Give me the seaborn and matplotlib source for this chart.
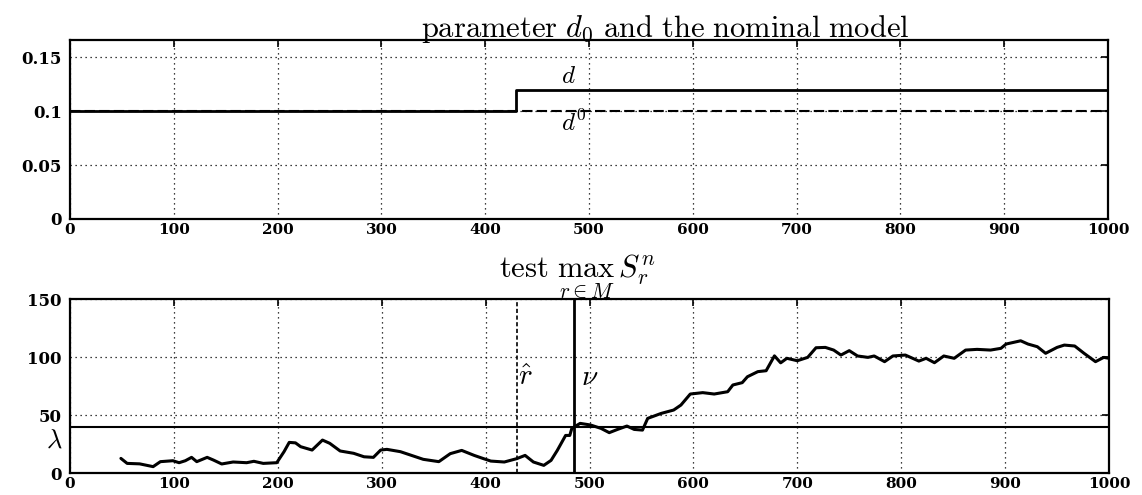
import numpy as np
import pandas as pd
import matplotlib
matplotlib.use('Agg')
import matplotlib.pyplot as plt
import seaborn as sns
from matplotlib.ticker import FuncFormatter

# top panel: parameter d and nominal d0 (step at the change time)
t_param = [0, 430, 1000]
d_true = [0.10, 0.12, 0.12]
d_nominal = [0.10, 0.10, 0.10]

# bottom panel: test statistic
t_test = [49, 55, 67, 80, 87, 99, 105, 111, 117, 122, 132, 138, 146, 157, 170, 177, 186, 199,
          206, 211, 217, 222, 233, 243, 250, 260, 273, 283, 292, 299, 305, 318, 340, 355, 366,
          377, 389, 398, 405, 418, 430, 438, 446, 456, 463, 469, 477, 481, 483, 491, 501, 511,
          519, 527, 536, 543, 551, 556, 569, 581, 588, 597, 609, 620, 633, 638, 647, 652, 662,
          670, 678, 684, 690, 700, 710, 718, 727, 735, 742, 750, 758, 768, 774, 784, 792, 804,
          817, 824, 832, 841, 851, 862, 873, 886, 896, 901, 915, 922, 931, 939, 950, 957, 967,
          976, 987, 995, 1000]
s_test = [12.6, 8.3, 7.9, 5.5, 9.8, 10.6, 8.9, 10.6, 13.5, 9.8, 13.5, 11.2, 7.8, 9.5, 8.9, 10.1, 8.3, 8.9,
          18.4, 26.4, 26.0, 22.7, 19.8, 28.4, 25.6, 19.0, 17.0, 14.0, 13.5, 19.8, 20.4, 18.4, 11.8, 9.8, 16.7,
          19.5, 15.2, 12.4, 10.3, 9.5, 12.4, 15.2, 9.5, 6.6, 10.9, 19.5, 32.4, 32.4, 38.5, 42.8, 41.4, 38.5,
          34.8, 37.6, 40.5, 37.6, 37.0, 47.1, 51.4, 54.3, 58.6, 68.1, 69.3, 68.1, 70.1, 75.9, 77.9, 83.0, 87.4,
          88.2, 101.0, 95.0, 98.9, 96.8, 99.7, 108.0, 108.3, 106.0, 101.7, 105.5, 100.9, 99.7, 100.9, 96.0, 100.9, 101.7,
          96.5, 98.9, 95.1, 100.9, 98.9, 106.0, 106.6, 106.0, 107.5, 111.2, 114.0, 111.2, 108.9, 103.2, 108.3, 110.3, 109.5,
          103.2, 96.0, 99.7, 98.9]

threshold = 40          # lambda
alarm_time = 485        # solid vertical line
r_hat = 430             # estimated change time (dashed)

sns.set_style('white')
plt.rcParams['mathtext.fontset'] = 'cm'
plt.rcParams['font.family'] = ['DejaVu Serif']
plt.rcParams['text.color'] = 'black'

fig = plt.figure(figsize=(11.42, 4.95), dpi=100)
ax1 = fig.add_axes([0.0613, 0.5576, 0.9089, 0.3616])
ax2 = fig.add_axes([0.0613, 0.0444, 0.9098, 0.3515])

df_param = pd.DataFrame({'t': t_param, 'd': d_true, 'd0': d_nominal})
sns.lineplot(data=df_param, x='t', y='d0', ax=ax1, color='black', lw=1.5,
             linestyle=(0, (5, 2)), drawstyle='steps-post', zorder=3)
sns.lineplot(data=df_param, x='t', y='d', ax=ax1, color='black', lw=2,
             drawstyle='steps-post', zorder=4)
ax1.set_ylim(0, 0.166)
ax1.set_yticks([0, 0.05, 0.1, 0.15])
ax1.text(480, 0.1215, r'$d$', fontsize=18, ha='center', va='bottom')
ax1.text(485, 0.1005, r'$d^0$', fontsize=18, ha='center', va='top')
# titles sit off-centre in the original, placed by hand
ax1.text(0.574, 1.017, r'$\mathrm{parameter}\ d_0\ \mathrm{and\ the\ nominal\ model}$',
         fontsize=22, ha='center', va='baseline', transform=ax1.transAxes)

df_test = pd.DataFrame({'t': t_test, 's': s_test})
sns.lineplot(data=df_test, x='t', y='s', ax=ax2, color='black', lw=2.2, sort=False, zorder=4)
ax2.axhline(threshold, color='black', lw=1.5, zorder=3)
ax2.axvline(alarm_time, color='black', lw=2, zorder=3)
ax2.axvline(r_hat, color='black', lw=1.2, linestyle=(0, (2.5, 1.5)), zorder=3)
ax2.set_ylim(0, 150)
ax2.set_yticks([0, 50, 100, 150])
ax2.text(438, 83, r'$\hat{r}$', fontsize=21, ha='center', va='center')
ax2.text(500, 83, r'$\nu$', fontsize=21, ha='center', va='center')
ax2.text(-15, 28, r'$\lambda$', fontsize=19, ha='center', va='center')
ax2.text(0.488, 1.126, r'$\mathrm{test}\ \underset{r\in M}{\max}\, S_r^n$',
         fontsize=22, ha='center', va='baseline', transform=ax2.transAxes)

for ax in (ax1, ax2):
    ax.set_xlim(0, 1000)
    ax.set_xticks(range(0, 1001, 100))
    ax.set_xlabel('')
    ax.set_ylabel('')
    ax.grid(True, color='black', linestyle=(0, (1, 3)), lw=0.9)
    ax.yaxis.set_major_formatter(FuncFormatter(lambda v, p: '%g' % v))
    ax.tick_params(direction='in', length=5, width=1.2, top=True, right=True,
                   labelsize=12, colors='black')
    ax.tick_params(axis='x', labelsize=11, pad=3)
    ax.tick_params(axis='y', pad=6)
    for lab in ax.get_xticklabels() + ax.get_yticklabels():
        lab.set_fontweight('bold')
    for sp in ax.spines.values():
        sp.set_linewidth(1.6)
        sp.set_color('black')

fig.savefig('out.png', dpi=100)
